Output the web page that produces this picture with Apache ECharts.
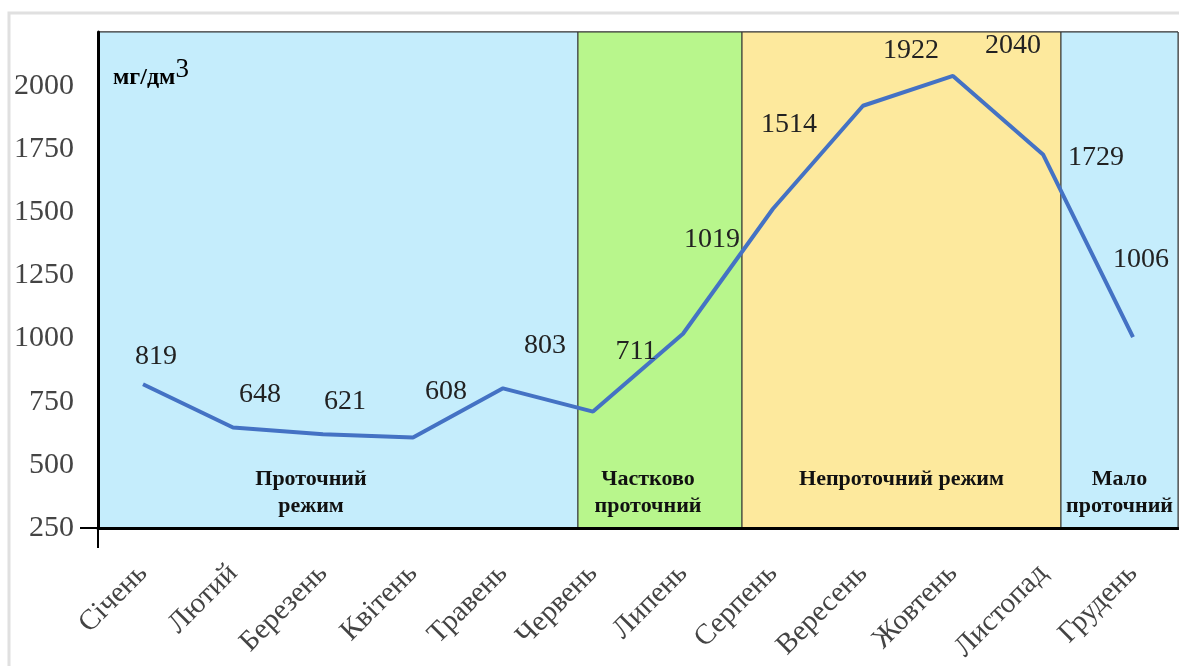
<!DOCTYPE html>
<html>
<head>
<meta charset="utf-8">
<script src="https://cdn.jsdelivr.net/npm/echarts@6/dist/echarts.min.js"></script>
<style>
  html, body { margin: 0; padding: 0; background: #fff; }
  #chart { width: 1179px; height: 666px; }
</style>
</head>
<body>
<div id="chart"></div>
<script>
  const months = ["Січень", "Лютий", "Березень", "Квітень", "Травень", "Червень",
    "Липень", "Серпень", "Вересень", "Жовтень", "Листопад", "Грудень"]
  const values = [819, 648, 621, 608, 803, 711, 1019, 1514, 1922, 2040, 1729, 1006]
  // regime bands, in month units along the axis (0 = left edge, 12 = right edge)
  const bandNames = ["Проточний\nрежим", "Частково\nпроточний", "Непроточний режим", "Мало\nпроточний"]
  const bandEdges = [0, 5.333, 7.156, 10.7, 12]

  const bandColors = ["#c5edfc", "#b8f68c", "#fde99d", "#c5edfc"]
  const bandLabelOffsets = [[-27, 0], [-12, 0], [0, -27], [0, 0]]
  // where each value label sits relative to its point
  const labelOffsets = [[13, -28], [27, -33], [22, -33], [33, -46], [42, -43], [43, -60],
    [29, -94], [16, -84], [48, -55], [60, -30], [53, 3], [8, -77]]

  const serif = "Liberation Serif"

  const lineData = values.map((v, i) => ({
    value: v,
    label: { offset: labelOffsets[i] },
  }))

  const bands = bandNames.map((name, i) => [
    {
      name: name,
      xAxis: bandEdges[i],
      itemStyle: { color: bandColors[i], borderColor: "#333", borderWidth: 1 },
      label: { offset: bandLabelOffsets[i] },
    },
    { xAxis: bandEdges[i + 1] },
  ])

  const options = {
    animation: false,
    backgroundColor: "#fff",
    grid: {
      left: 98,
      right: 1,
      top: 32,
      bottom: 138,
      show: true,
      borderColor: "#222",
      borderWidth: 1,
    },
    xAxis: [
      {
        type: "category",
        data: months,
        boundaryGap: true,
        axisLine: { lineStyle: { color: "#000", width: 3 } },
        axisTick: { show: false },
        axisLabel: {
          interval: 0,
          rotate: 45,
          margin: 41,
          fontFamily: serif,
          fontSize: 29,
          color: "#444",
        },
        z: 5,
      },
      { type: "value", min: 0, max: 12, show: false },
    ],
    yAxis: {
      type: "value",
      min: 250,
      max: 2214,
      interval: 250,
      splitLine: { show: false },
      axisTick: { show: false },
      axisLine: { show: true, lineStyle: { color: "#000", width: 3 } },
      axisLabel: {
        margin: 24,
        showMaxLabel: false,
        fontFamily: serif,
        fontSize: 30,
        color: "#444",
        formatter: (v) => (v % 250 === 0 ? String(v) : ""),
      },
      z: 5,
    },
    series: [
      {
        type: "line",
        xAxisIndex: 1,
        data: [],
        silent: true,
        markArea: {
          silent: true,
          label: {
            show: true,
            position: "insideBottom",
            distance: 9,
            fontFamily: serif,
            fontWeight: "bold",
            fontSize: 22,
            lineHeight: 27,
            color: "#111",
          },
          data: bands,
        },
      },
      {
        type: "line",
        xAxisIndex: 0,
        data: lineData,
        symbol: "circle",
        symbolSize: 0,
        showSymbol: true,
        lineStyle: { color: "#4472c4", width: 4 },
        itemStyle: { color: "#4472c4" },
        label: {
          show: true,
          position: "inside",
          fontFamily: serif,
          fontSize: 28,
          color: "#222",
        },
        z: 4,
      },
    ],
  }

  const myChart = echarts.init(document.getElementById("chart"))
  myChart.setOption(options)

  // outer frame, unit caption and the short stubs where the two axes cross
  const base = myChart.convertToPixel({ yAxisIndex: 0 }, 250)
  const left = myChart.convertToPixel({ xAxisIndex: 1 }, 0)
  myChart.setOption({
    graphic: [
      {
        type: "rect",
        shape: { x: 9, y: 13, width: 1200, height: 700 },
        style: { fill: "none", stroke: "#e0e0e0", lineWidth: 3 },
        silent: true,
      },
      {
        type: "line",
        shape: { x1: left - 18, y1: base, x2: left, y2: base },
        style: { stroke: "#000", lineWidth: 2 },
        z: 10,
      },
      {
        type: "line",
        shape: { x1: left, y1: base, x2: left, y2: base + 20 },
        style: { stroke: "#000", lineWidth: 2 },
        z: 10,
      },
      {
        type: "text",
        left: 113,
        top: 56,
        z: 10,
        style: {
          text: "{a|мг/дм}{b|3}",
          rich: {
            a: { fontFamily: serif, fontWeight: "bold", fontSize: 24, color: "#111", padding: [10, 0, 0, 0] },
            b: { fontFamily: serif, fontSize: 27, color: "#111", verticalAlign: "top" },
          },
        },
      },
    ],
  })
  window.addEventListener("resize", () => myChart.resize(), false)
</script>
</body>
</html>
